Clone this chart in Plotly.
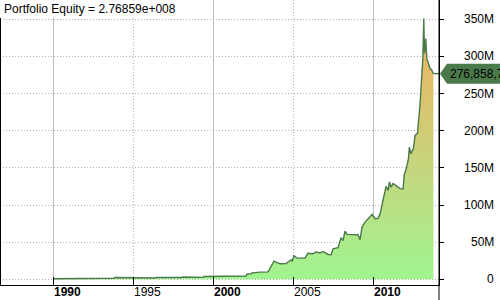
import plotly.graph_objects as go

# ---- data ----
years = [1990.00, 1991.67, 1992.92, 1993.79, 1993.85, 1994.17, 1994.23, 1994.60, 1994.67, 1994.92,
         1995.00, 1995.42, 1995.48, 1995.67, 1995.73, 1996.36, 1996.42, 1997.11, 1997.17, 1997.54,
         1997.60, 1998.04, 1998.10, 1998.35, 1998.42, 1999.35, 1999.42, 2000.00, 2001.04, 2002.04,
         2002.10, 2002.35, 2002.42, 2002.86, 2002.92, 2003.42, 2003.60, 2003.79, 2003.98, 2004.17,
         2004.54, 2004.67, 2004.86, 2004.92, 2005.04, 2005.23, 2005.73, 2005.92, 2006.17, 2006.42,
         2006.67, 2006.86, 2007.17, 2007.36, 2007.48, 2007.79, 2007.98, 2008.10, 2008.23, 2008.35,
         2009.04, 2009.17, 2009.29, 2009.48, 2009.67, 2009.92, 2010.10, 2010.29, 2010.42, 2010.54,
         2010.67, 2010.79, 2010.92, 2011.00, 2011.10, 2011.23, 2011.48, 2011.67, 2011.86, 2011.92,
         2012.08, 2012.19, 2012.25, 2012.34, 2012.50, 2012.61, 2012.75, 2012.81, 2012.92, 2013.02,
         2013.09, 2013.15, 2013.19, 2013.27, 2013.34, 2013.44, 2013.54, 2013.65, 2013.75]
equity_m = [0.8, 1.0, 1.2, 1.3, 2.4, 2.3, 1.6, 1.7, 2.4, 2.3,
            1.5, 1.7, 2.2, 2.1, 1.6, 1.8, 2.5, 2.5, 1.9, 1.9,
            2.3, 2.4, 3.0, 2.9, 2.4, 2.6, 3.8, 4.0, 4.2, 4.4,
            7.0, 7.4, 8.6, 8.6, 9.6, 10.0, 17.0, 24.4, 22.5, 21.0,
            21.3, 23.5, 26.3, 24.0, 31.7, 28.5, 28.5, 35.2, 34.0, 36.6,
            35.5, 37.5, 33.4, 33.0, 41.0, 42.5, 56.0, 52.0, 64.9, 60.4,
            60.0, 53.3, 70.3, 77.0, 81.6, 87.4, 81.6, 82.0, 88.0, 99.5,
            115.0, 125.0, 119.8, 131.0, 124.0, 128.8, 125.0, 122.0, 121.5, 140.0,
            151.0, 162.5, 178.0, 169.0, 176.0, 194.0, 196.0, 209.7, 236.7, 272.6,
            297.0, 351.0, 304.0, 324.0, 297.0, 290.6, 284.0, 281.6, 276.858712]
y_ticks_m = [0, 50, 100, 150, 200, 250, 300, 350]
y_tick_labels = ["0", "50M", "100M", "150M", "200M", "250M", "300M", "350M"]
x_major_ticks = [1990, 2000, 2010]
x_minor_ticks = [1995, 2005]
x_tick_values = [1990, 1995, 2000, 2005, 2010]
x_tick_labels = ["<b>1990</b>", "1995", "<b>2000</b>", "2005", "<b>2010</b>"]

equity = [v * 1e6 for v in equity_m]
y_ticks = [v * 1e6 for v in y_ticks_m]
last = equity[-1]

X_RANGE = [1986.67, 2014.1]
Y_RANGE = [-7.7e6, 376e6]
PLOT_W = 439.0
PLOT_H = 285.0
Y_PER_PX = (Y_RANGE[1] - Y_RANGE[0]) / PLOT_H

FONT = "Liberation Sans, Arial, sans-serif"
LINE_GREEN = "#4a7a4a"
DOTS = "1px,2px"

fig = go.Figure()
fig.add_trace(go.Scatter(
    x=years, y=equity, mode="lines",
    line=dict(color=LINE_GREEN, width=1.4),
    fill="tozeroy",
    fillgradient=dict(type="vertical",
                      colorscale=[[0, "#a0f490"], [0.5, "#c6d57c"], [1, "#eab764"]],
                      start=0, stop=310e6),
    hoverinfo="skip",
))
# short connector from the last value to the value marker at the axis
fig.add_trace(go.Scatter(
    x=[years[-1], X_RANGE[1]], y=[last, last], mode="lines",
    line=dict(color=LINE_GREEN, width=1.4), hoverinfo="skip",
))

annotations = []
# title
annotations.append(dict(
    text="Portfolio Equity = %.5fe+008" % (last / 1e8),
    xref="paper", yref="paper", x=0, y=1, xanchor="left", yanchor="top",
    xshift=2, yshift=0, showarrow=False, font=dict(family=FONT, size=12, color="#000"),
    bgcolor="white", borderpad=1,
))
# x tick labels (left aligned after the tick)
for v, t in zip(x_tick_values, x_tick_labels):
    annotations.append(dict(
        text=t, xref="x", yref="paper", x=v, y=-15 / PLOT_H, xanchor="left", yanchor="bottom",
        xshift=0, yshift=0, borderpad=0, showarrow=False,
        font=dict(family=FONT, size=12, color="#000"),
    ))
# y tick labels (right aligned at the image edge)
for v, t in zip(y_ticks, y_tick_labels):
    annotations.append(dict(
        text=t, xref="paper", yref="y", x=496 / PLOT_W, y=v, xanchor="right", yanchor="middle",
        showarrow=False, font=dict(family=FONT, size=12, color="#000"),
    ))
# value label box (clipped by the picture edge, as in the reference)
annotations.append(dict(
    text=f"{last:,.0f}", xref="paper", yref="y", x=1 + 9 / PLOT_W, y=last,
    xanchor="left", yanchor="middle", showarrow=False,
    font=dict(family=FONT, size=12, color="#000"),
))

hh = 10 * Y_PER_PX
shapes = [
    # value pointer box
    dict(type="path", xref="paper", yref="y",
         path=(f"M {1 + 1 / PLOT_W},{last} L {1 + 8 / PLOT_W},{last + hh} "
               f"L {1 + 80 / PLOT_W},{last + hh} L {1 + 80 / PLOT_W},{last - hh} "
               f"L {1 + 8 / PLOT_W},{last - hh} Z"),
         fillcolor=LINE_GREEN, line=dict(width=0), layer="above"),
    # right axis line extended to the bottom of the picture
    dict(type="line", xref="paper", yref="paper", x0=1, x1=1, y0=-15 / PLOT_H, y1=1,
         line=dict(color="#000", width=1)),
    # left border
    dict(type="line", xref="paper", yref="paper", x0=0.5 / PLOT_W, x1=0.5 / PLOT_W,
         y0=0, y1=1 - 18 / PLOT_H, line=dict(color="#000", width=1)),
]

fig.update_layout(
    width=500, height=300,
    margin=dict(l=0, r=61, t=0, b=15, pad=0),
    paper_bgcolor="white", plot_bgcolor="white",
    showlegend=False,
    font=dict(family=FONT, size=12, color="#000"),
    annotations=annotations, shapes=shapes,
    xaxis=dict(
        range=X_RANGE, tickmode="array", tickvals=x_major_ticks, showticklabels=False,
        ticks="inside", ticklen=8, tickcolor="#000", tickwidth=1,
        showgrid=True, gridcolor="#c0c0c0", gridwidth=1, griddash="solid",
        showline=True, linecolor="#000", linewidth=1, zeroline=False,
        minor=dict(tickmode="array", tickvals=x_minor_ticks, ticks="inside", ticklen=8,
                   tickcolor="#000", showgrid=True, gridcolor="#b0b0b0", griddash=DOTS),
        fixedrange=True,
    ),
    yaxis=dict(
        side="right", range=Y_RANGE, tickmode="array", tickvals=y_ticks, showticklabels=False,
        ticks="outside", ticklen=4, tickcolor="#000",
        showgrid=True, gridcolor="#b0b0b0", griddash=DOTS, gridwidth=1,
        showline=True, linecolor="#000", linewidth=1, zeroline=False,
        fixedrange=True,
    ),
)

fig.write_html("out.html", config={"displayModeBar": False})
